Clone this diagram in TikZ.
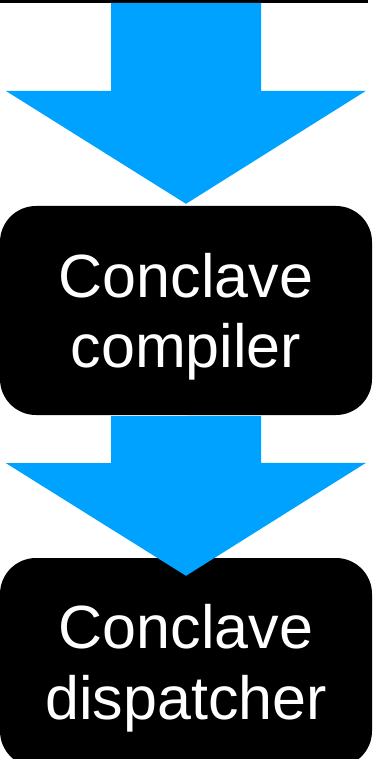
\documentclass[tikz,border=0pt]{standalone}
\usepackage{fontspec}
\setmainfont{Liberation Sans}
\usetikzlibrary{calc}
\definecolor{flowblue}{RGB}{0,162,255}
\begin{document}
\begin{tikzpicture}[x=1pt,y=-1pt,
  stage/.style={fill=black, draw=none, rounded corners=36pt,
    minimum width=372pt, minimum height=209pt, inner sep=0pt},
  caption/.style={text=white, font=\fontsize{61}{70}\selectfont,
    anchor=base, inner sep=0pt},
  flow/.style={fill=flowblue, draw=none}]
\useasboundingbox (0,0) rectangle (383,759);
\begin{scope}
\clip (0,0) rectangle (383,759);
% edge of the stage above
\fill[black] (0,0) rectangle (368,3);
\coordinate (source) at (186,3);
% stages
\node[stage] (compiler) at (186,310.5) {};
\node[stage] (dispatcher) at (186,662.5) {};
\node[caption] (compilerA) at (186,297) {Conclave};
\node[caption] (compilerB) at (186,367) {compiler};
\node[caption] (dispatcherA) at (186,648) {Conclave};
\node[caption] (dispatcherB) at (186,719) {dispatcher};
% block arrows: shaft half-width 75, head half-width 180, head length 113
\fill[flow] (source) ++(-75,0) -- ++(0,88) -- ++(-105,0)
  -- ($(compiler.north)+(0,-2)$) -- ++(180,-113) -- ++(-105,0) -- ++(0,-88) -- cycle;
\fill[flow] (compiler.south) ++(-75,1) -- ++(0,47) -- ++(-105,0)
  -- ($(dispatcher.north)+(0,18)$) -- ++(180,-113) -- ++(-105,0) -- ++(0,-47) -- cycle;
\end{scope}
\end{tikzpicture}
\end{document}
